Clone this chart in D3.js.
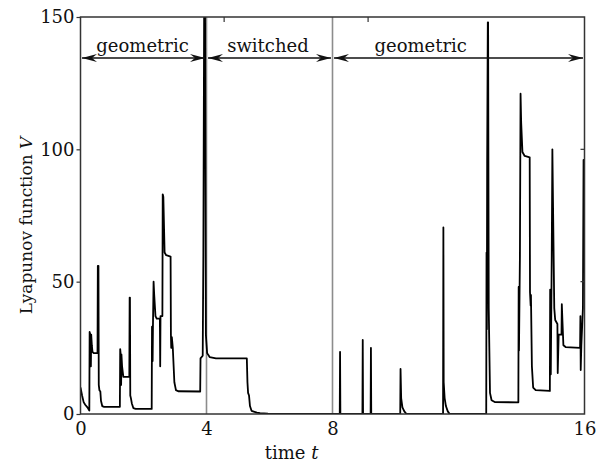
<!DOCTYPE html>
<html>
<head>
<meta charset="utf-8">
<script src="https://cdn.jsdelivr.net/npm/d3@7"></script>
<style>
  body { margin: 0; background: #fff; }
</style>
</head>
<body>
<div id="chart"></div>
<script>
// time samples and Lyapunov values
const tVals = [0, 0.05, 0.1, 0.15, 0.22, 0.28, 0.29, 0.32, 0.33, 0.34, 0.36, 0.38, 0.42, 0.54, 0.55, 0.57, 0.58, 0.6, 0.63, 0.65, 0.69, 0.75,
  1.25, 1.26, 1.28, 1.29, 1.3, 1.32, 1.36, 1.55, 1.56, 1.57, 1.58, 1.6, 1.63, 1.68, 1.75,
  2.26, 2.27, 2.29, 2.3, 2.32, 2.34, 2.38, 2.42, 2.52, 2.53, 2.54, 2.6, 2.61, 2.63, 2.67, 2.72, 2.86, 2.87, 2.88, 2.9, 2.93, 2.98, 3.03, 3.1,
  3.8, 3.81, 3.88, 3.9, 3.93, 3.95, 3.98, 4.02, 4.1, 4.3, 5.28, 5.3, 5.32, 5.35, 5.38, 5.43, 5.5, 5.6, 5.7, 5.95, 6.5,
  8.23, 8.24, 8.25, 8.95, 8.96, 8.97, 9.21, 9.22, 9.23, 10.15, 10.16, 10.18, 10.22, 10.28, 10.35,
  11.51, 11.52, 11.53, 11.56, 11.6, 11.66, 11.72,
  12.88, 12.89, 12.9, 12.91, 12.93, 12.94, 12.96, 13.0, 13.05, 13.15, 13.9, 13.91, 13.92, 13.95, 13.97, 13.99, 14.03, 14.1, 14.26,
  14.27, 14.29, 14.3, 14.33, 14.37, 14.45, 14.9, 14.91, 14.93, 14.96, 14.98, 15.0, 15.04, 15.07, 15.14, 15.15, 15.18, 15.27,
  15.28, 15.3, 15.33, 15.4, 15.86, 15.87, 15.88, 15.9, 15.95, 15.97, 16];
const vVals = [10, 7, 4.5, 3.5, 2.5, 1.3, 31, 29.5, 18, 30, 26, 23.5, 23, 23, 56, 56, 11, 9, 8.5, 5, 3, 2.7,
  2.7, 24.5, 22, 11, 22.5, 18, 14, 14, 44, 44, 7, 6, 4, 2.2, 1.9,
  1.9, 33, 20, 33, 50, 45, 37, 36, 36, 18, 37, 37, 83, 82, 61, 60, 59.5, 30, 25, 29, 25, 12, 9, 8.6,
  8.5, 21, 22, 60, 170, 170, 30, 23, 21.5, 21, 21, 12, 8, 7, 3, 1.2, 0.9, 0.5, 0.3, 0.1, 0,
  0, 23.5, 0, 0, 28, 0, 0, 25, 0, 0, 17, 6, 2.5, 1, 0,
  0, 70.5, 12, 6, 3, 1, 0,
  0, 61, 32, 95, 148, 148, 40, 8, 5.2, 4.5, 4.4, 48, 24, 60, 121, 110, 99, 97.5, 97,
  46, 41, 45, 18, 10, 9, 8.7, 47, 15, 60, 100, 80, 40, 35.5, 34, 15.5, 30, 30,
  41.5, 35, 26, 25.3, 25, 37, 16.6, 26, 40, 96, 80];

const xTicks = [0, 4, 8, 16];
const yTicks = [0, 50, 100, 150];
const rightTicks = [50, 100];
const topTicks = [4.56, 9.13];
const phaseEdges = [4, 8];
const phaseStart = [0, 4, 8];
const phaseEnd = [4, 8, 16];
const phaseLabels = ["geometric", "switched", "geometric"];
const phaseLabelAt = [1.97, 5.95, 10.8];

const serif = "'DejaVu Serif', serif";
const width = 602, height = 462;
const margin = { top: 17, right: 17.5, bottom: 48, left: 80.5 };

const svg = d3.select("#chart").append("svg")
  .attr("width", width)
  .attr("height", height)
  .style("font-family", serif);

const x = d3.scaleLinear().domain([0, 16]).range([margin.left, width - margin.right]);
const y = d3.scaleLinear().domain([0, 150]).range([height - margin.bottom, margin.top]);

svg.append("clipPath").attr("id", "plotclip")
  .append("rect")
  .attr("x", x(0)).attr("y", y(150))
  .attr("width", x(16) - x(0)).attr("height", y(0) - y(150));

// grey phase separators
svg.append("g").selectAll("line")
  .data(phaseEdges)
  .join("line")
  .attr("x1", d => x(d)).attr("x2", d => x(d))
  .attr("y1", y(0)).attr("y2", y(150))
  .attr("stroke", "#8c8c8c")
  .attr("stroke-width", 1.6);

// the trajectory
const pts = tVals.map((t, i) => [t, vVals[i]]);
svg.append("path")
  .datum(pts)
  .attr("clip-path", "url(#plotclip)")
  .attr("fill", "none")
  .attr("stroke", "#000")
  .attr("stroke-width", 1.8)
  .attr("stroke-linejoin", "round")
  .attr("d", d3.line().x(d => x(d[0])).y(d => y(d[1])));

// frame
svg.append("rect")
  .attr("x", x(0)).attr("y", y(150))
  .attr("width", x(16) - x(0)).attr("height", y(0) - y(150))
  .attr("fill", "none")
  .attr("stroke", "#333")
  .attr("stroke-width", 1.5);

// axes
const xAxis = svg.append("g")
  .attr("transform", `translate(0,${y(0)})`)
  .call(d3.axisBottom(x).tickValues(xTicks).tickSize(0).tickPadding(8));
const yAxis = svg.append("g")
  .attr("transform", `translate(${x(0)},0)`)
  .call(d3.axisLeft(y).tickValues(yTicks).tickSize(4).tickPadding(2));
[xAxis, yAxis].forEach(a => {
  a.attr("font-family", null).attr("font-size", null);
  a.select(".domain").remove();
  a.selectAll("line").attr("stroke", "#333").attr("stroke-width", 1.2);
  a.selectAll("text")
    .style("font-family", serif)
    .style("font-size", "18px")
    .attr("fill", "#111");
});

svg.append("g").selectAll("line")
  .data(rightTicks)
  .join("line")
  .attr("x1", x(16) - 4).attr("x2", x(16))
  .attr("y1", d => y(d)).attr("y2", d => y(d))
  .attr("stroke", "#333").attr("stroke-width", 1.2);

svg.append("g").selectAll("line")
  .data(topTicks)
  .join("line")
  .attr("x1", d => x(d)).attr("x2", d => x(d))
  .attr("y1", y(150)).attr("y2", y(150) + 5)
  .attr("stroke", "#333").attr("stroke-width", 1.2);

// axis titles
const xt = svg.append("text")
  .attr("x", x(6.7)).attr("y", 459)
  .attr("text-anchor", "middle")
  .style("font-family", serif)
  .style("font-size", "18px")
  .attr("fill", "#111");
xt.append("tspan").text("time ");
xt.append("tspan").attr("font-style", "italic").text("t");

const yt = svg.append("text")
  .attr("transform", `translate(32,${(y(0) + y(150)) / 2 + 10}) rotate(-90)`)
  .attr("text-anchor", "middle")
  .style("font-family", serif)
  .style("font-size", "17px")
  .attr("fill", "#111");
yt.append("tspan").text("Lyapunov function ");
yt.append("tspan").attr("font-style", "italic").text("V");

// double-headed arrows marking the phases
svg.append("defs").append("marker")
  .attr("id", "head")
  .attr("viewBox", "-16 -5 17 10")
  .attr("refX", 0).attr("refY", 0)
  .attr("markerWidth", 17).attr("markerHeight", 10)
  .attr("markerUnits", "userSpaceOnUse")
  .attr("orient", "auto-start-reverse")
  .append("path")
  .attr("d", "M0,0 L-15,-4 L-10,0 L-15,4 Z")
  .attr("fill", "#111");

const arrowY = y(134.5);
svg.append("g").selectAll("line")
  .data(phaseStart)
  .join("line")
  .attr("x1", d => x(d) + 1.5)
  .attr("x2", (d, i) => x(phaseEnd[i]) - 1.5)
  .attr("y1", arrowY).attr("y2", arrowY)
  .attr("stroke", "#111")
  .attr("stroke-width", 1.5)
  .attr("marker-start", "url(#head)")
  .attr("marker-end", "url(#head)");

svg.append("g").selectAll("text")
  .data(phaseLabels)
  .join("text")
  .attr("x", (d, i) => x(phaseLabelAt[i]))
  .attr("y", arrowY - 6)
  .attr("text-anchor", "middle")
  .style("font-family", serif)
  .style("font-size", "18px")
  .attr("fill", "#111")
  .text(d => d);
</script>
</body>
</html>
